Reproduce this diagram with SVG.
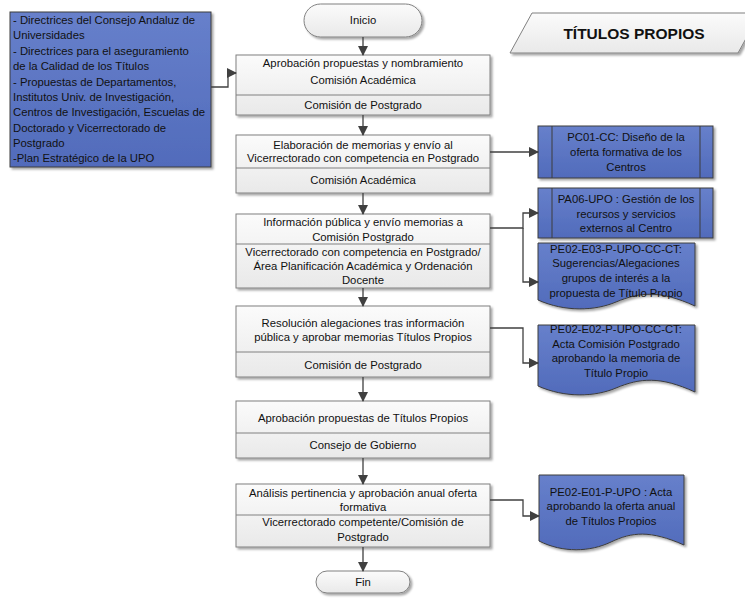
<svg xmlns="http://www.w3.org/2000/svg" width="745" height="601" viewBox="0 0 745 601">
<defs>
<linearGradient id="gGray" x1="0" y1="0" x2="0" y2="1"><stop offset="0" stop-color="#fbfbfb"/><stop offset="1" stop-color="#e9e9e9"/></linearGradient>
<linearGradient id="gBlue" x1="0" y1="0" x2="0" y2="1"><stop offset="0" stop-color="#6780cb"/><stop offset="1" stop-color="#516bbb"/></linearGradient>
<filter id="sh" x="-10%" y="-10%" width="130%" height="130%"><feDropShadow dx="2" dy="2" stdDeviation="1.2" flood-color="#000" flood-opacity="0.35"/></filter>
<marker id="ah" markerWidth="10" markerHeight="10" refX="9" refY="5" orient="auto" markerUnits="userSpaceOnUse"><path d="M0,0 L10,5 L0,10 Z" fill="#404040"/></marker>
<style>
text{font-family:"Liberation Sans",Arial,sans-serif;font-size:11.3px;fill:#111}
.c{text-anchor:middle}
.box{fill:url(#gGray);stroke:#808080;stroke-width:1;filter:url(#sh)}
.div{stroke:#808080;stroke-width:1}
.blue{fill:url(#gBlue);stroke:#3c3c3c;stroke-width:1;filter:url(#sh)}
.conn{fill:none;stroke:#404040;stroke-width:1.3;marker-end:url(#ah)}
.title{font-size:15.5px;font-weight:bold;fill:#111}
</style>
</defs>

<g id="titulo">
<path d="M532,13 L760,13 L738,53 L510,53 Z" fill="url(#gGray)" stroke="#808080" filter="url(#sh)"/>
<text class="c title" x="634" y="39">TÍTULOS PROPIOS</text>
</g>

<g id="entradas">
<rect class="blue" x="10" y="12" width="201" height="155"/>
<text x="13" y="24">- Directrices del Consejo Andaluz de</text>
<text x="13" y="39">Universidades</text>
<text x="13" y="55">- Directrices para el aseguramiento</text>
<text x="13" y="70">de la Calidad de los Títulos</text>
<text x="13" y="86">- Propuestas de Departamentos,</text>
<text x="13" y="101">Institutos Univ. de Investigación,</text>
<text x="13" y="116">Centros de Investigación, Escuelas de</text>
<text x="13" y="132">Doctorado y Vicerrectorado de</text>
<text x="13" y="147">Postgrado</text>
<text x="13" y="162">-Plan Estratégico de la UPO</text>
</g>

<g id="inicio">
<rect class="box" x="304" y="4" width="118" height="33" rx="16.5"/>
<text class="c" x="363" y="24">Inicio</text>
</g>

<g id="paso1">
<rect class="box" x="236" y="55" width="254" height="60"/>
<line class="div" x1="236" y1="95" x2="490" y2="95"/>
<text class="c" x="363" y="67">Aprobación propuestas y nombramiento</text>
<text class="c" x="363" y="84">Comisión Académica</text>
<text class="c" x="363" y="109">Comisión de Postgrado</text>
</g>

<g id="paso2">
<rect class="box" x="236" y="135" width="254" height="58"/>
<line class="div" x1="236" y1="168" x2="490" y2="168"/>
<text class="c" x="363" y="149">Elaboración de memorias y envío al</text>
<text class="c" x="363" y="162">Vicerrectorado con competencia en Postgrado</text>
<text class="c" x="363" y="184">Comisión Académica</text>
</g>

<g id="paso3">
<rect class="box" x="236" y="214" width="254" height="74"/>
<line class="div" x1="236" y1="244" x2="490" y2="244"/>
<text class="c" x="363" y="226">Información pública y envío memorias a</text>
<text class="c" x="363" y="241">Comisión Postgrado</text>
<text class="c" x="363" y="256">Vicerrectorado con competencia en Postgrado/</text>
<text class="c" x="363" y="270">Área Planificación Académica y Ordenación</text>
<text class="c" x="363" y="284">Docente</text>
</g>

<g id="paso4">
<rect class="box" x="236" y="306" width="254" height="71"/>
<line class="div" x1="236" y1="352" x2="490" y2="352"/>
<text class="c" x="363" y="327">Resolución alegaciones tras información</text>
<text class="c" x="363" y="341">pública y aprobar memorias Títulos Propios</text>
<text class="c" x="363" y="369">Comisión de Postgrado</text>
</g>

<g id="paso5">
<rect class="box" x="236" y="401" width="254" height="57"/>
<line class="div" x1="236" y1="433" x2="490" y2="433"/>
<text class="c" x="363" y="422">Aprobación propuestas de Títulos Propios</text>
<text class="c" x="363" y="449">Consejo de Gobierno</text>
</g>

<g id="paso6">
<rect class="box" x="236" y="484" width="254" height="63"/>
<line class="div" x1="236" y1="515" x2="490" y2="515"/>
<text class="c" x="363" y="497">Análisis pertinencia y aprobación anual oferta</text>
<text class="c" x="363" y="511">formativa</text>
<text class="c" x="363" y="526">Vicerrectorado competente/Comisión de</text>
<text class="c" x="363" y="541">Postgrado</text>
</g>

<g id="fin">
<rect class="box" x="316" y="571" width="94" height="22" rx="11"/>
<text class="c" x="363" y="586">Fin</text>
</g>

<g id="pc01">
<rect class="blue" x="538" y="126" width="175" height="52"/>
<line x1="552" y1="126" x2="552" y2="178" stroke="#3c3c3c"/>
<line x1="700" y1="126" x2="700" y2="178" stroke="#3c3c3c"/>
<text class="c" x="626" y="141">PC01-CC: Diseño de la</text>
<text class="c" x="626" y="156">oferta formativa de los</text>
<text class="c" x="626" y="171">Centros</text>
</g>

<g id="pa06">
<rect class="blue" x="538" y="188" width="175" height="50"/>
<line x1="552" y1="188" x2="552" y2="238" stroke="#3c3c3c"/>
<line x1="700" y1="188" x2="700" y2="238" stroke="#3c3c3c"/>
<text class="c" x="626" y="203">PA06-UPO : Gestión de los</text>
<text class="c" x="626" y="218">recursos y servicios</text>
<text class="c" x="626" y="232">externos al Centro</text>
</g>

<g id="pe02e03">
<path class="blue" d="M538,243 H695 V306 C660,290 640,292 616,302 C595,311 565,312 538,300 Z"/>
<text class="c" x="616" y="253">PE02-E03-P-UPO-CC-CT:</text>
<text class="c" x="616" y="267">Sugerencias/Alegaciones</text>
<text class="c" x="616" y="282">grupos de interés a la</text>
<text class="c" x="616" y="297">propuesta de Título Propio</text>
</g>

<g id="pe02e02">
<path class="blue" d="M538,325 H695 V392 C660,376 640,378 616,388 C595,397 565,398 538,386 Z"/>
<text class="c" x="616" y="333">PE02-E02-P-UPO-CC-CT:</text>
<text class="c" x="616" y="348">Acta Comisión Postgrado</text>
<text class="c" x="616" y="362">aprobando la memoria de</text>
<text class="c" x="616" y="377">Título Propio</text>
</g>

<g id="pe02e01">
<path class="blue" d="M539,475 H684 V545 C650,530 632,532 611,542 C590,552 563,553 539,541 Z"/>
<text class="c" x="611" y="496">PE02-E01-P-UPO : Acta</text>
<text class="c" x="611" y="510">aprobando la oferta anual</text>
<text class="c" x="611" y="525">de Títulos Propios</text>
</g>

<g id="conectores">
<path class="conn" d="M363,37 V55"/>
<path class="conn" d="M363,115 V135"/>
<path class="conn" d="M363,193 V214"/>
<path class="conn" d="M363,288 V306"/>
<path class="conn" d="M363,377 V401"/>
<path class="conn" d="M363,458 V484"/>
<path class="conn" d="M363,547 V571"/>
<path class="conn" d="M211,87 H228 V73 H236"/>
<path class="conn" d="M490,152 H538"/>
<path class="conn" d="M490,228 H523 V213 H538"/>
<path class="conn" d="M523,228 V282 H538"/>
<path class="conn" d="M490,328 H523 V363 H538"/>
<path class="conn" d="M490,500 H523 V516 H539"/>
</g>
</svg>
